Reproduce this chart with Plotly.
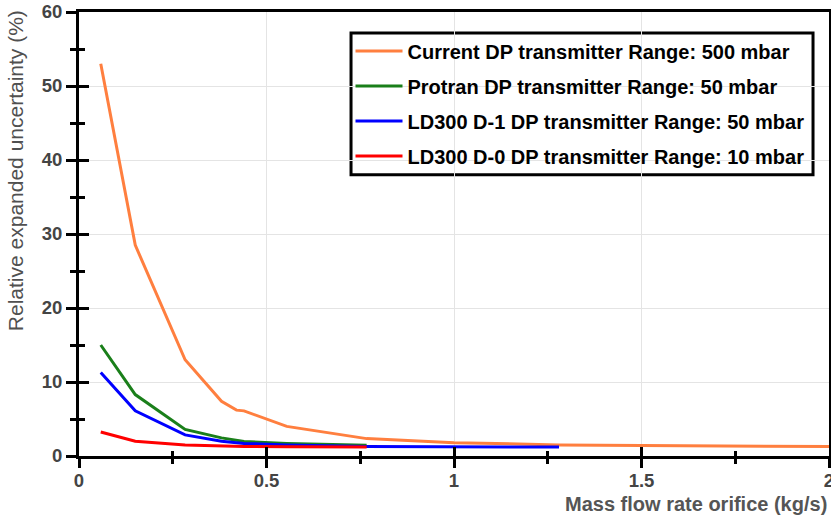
import plotly.graph_objects as go

# ---- data ----
orange_x = [0.058, 0.15, 0.283, 0.38, 0.42, 0.44, 0.554, 0.767, 1.0, 1.28, 1.5, 2.0]
orange_y = [53.0, 28.5, 13.0, 7.4, 6.2, 6.1, 4.0, 2.35, 1.8, 1.5, 1.42, 1.27]

green_x = [0.058, 0.15, 0.283, 0.38, 0.44, 0.554, 0.767]
green_y = [15.0, 8.3, 3.6, 2.45, 1.95, 1.7, 1.45]

blue_x = [0.058, 0.15, 0.283, 0.38, 0.44, 0.554, 0.767, 1.0, 1.28]
blue_y = [11.3, 6.1, 2.85, 2.0, 1.7, 1.5, 1.3, 1.25, 1.2]

red_x = [0.058, 0.15, 0.283, 0.38, 0.44, 0.554, 0.767]
red_y = [3.25, 2.0, 1.5, 1.35, 1.3, 1.25, 1.2]

names = [
    "Current DP transmitter Range: 500 mbar",
    "Protran DP transmitter Range: 50 mbar",
    "LD300 D-1 DP transmitter Range: 50 mbar",
    "LD300 D-0 DP transmitter Range: 10 mbar",
]
colors = ["#ff7f3f", "#1a7f1a", "#0000ff", "#ff0000"]

x_tickvals = [0, 0.5, 1, 1.5, 2]
x_ticktext = ["0", "0.5", "1", "1.5", "2"]
x_title = "Mass flow rate orifice (kg/s)"
y_title = "Relative expanded uncertainty (%)"

FONT = "Liberation Sans, Arial, sans-serif"

fig = go.Figure()
series = [(orange_x, orange_y), (green_x, green_y), (blue_x, blue_y), (red_x, red_y)]
for i, ((xs, ys), nm, c) in enumerate(zip(series, names, colors)):
    fig.add_trace(go.Scatter(x=xs, y=ys, mode="lines", name=nm,
                             line=dict(color=c, width=3),
                             legendgroup="g%d" % i))

# dummy trace on the overlay axes (inward ticks so the ticks cross the axis)
fig.add_trace(go.Scatter(x=[None], y=[None], xaxis="x2", yaxis="y2",
                         showlegend=False, hoverinfo="skip"))

tickfont = dict(family=FONT, size=18.5, color="#444444", weight="bold")

fig.update_layout(
    width=831, height=515,
    margin=dict(l=79, r=2, t=12, b=58.5),
    paper_bgcolor="white", plot_bgcolor="white",
    font=dict(family=FONT),
    showlegend=True,
    legend=dict(
        x=0.362, y=0.9563, xanchor="left", yanchor="top",
        bgcolor="rgba(0,0,0,0)", borderwidth=0,
        font=dict(family=FONT, size=20, color="black", weight="bold"),
        itemwidth=47, tracegroupgap=6, traceorder="grouped",
    ),
    shapes=[
        dict(type="rect", xref="paper", yref="paper",
             x0=0.3627, x1=0.9787, y0=0.6337, y1=0.9527,
             line=dict(color="black", width=3), fillcolor="white",
             layer="between"),
    ],
    xaxis=dict(
        range=[0, 2],
        tickvals=x_tickvals, ticktext=x_ticktext,
        showgrid=True, gridcolor="#e4e4e4", gridwidth=1,
        zeroline=False,
        showline=True, linecolor="black", linewidth=3, mirror=True,
        ticks="outside", ticklen=9, tickwidth=3, tickcolor="black",
        minor=dict(dtick=0.25, tick0=0, ticks="outside", ticklen=5, tickwidth=3,
                   tickcolor="black", showgrid=False),
        tickfont=tickfont, ticklabelstandoff=-3, ticklabeloverflow="allow",
        automargin=False, fixedrange=True,
    ),
    yaxis=dict(
        range=[0, 60], dtick=10, tick0=0,
        showgrid=True, gridcolor="#e4e4e4", gridwidth=1,
        zeroline=False,
        showline=True, linecolor="black", linewidth=3, mirror=True,
        ticks="outside", ticklen=10, tickwidth=3, tickcolor="black",
        minor=dict(dtick=5, tick0=0, ticks="outside", ticklen=6, tickwidth=3,
                   tickcolor="black", showgrid=False),
        tickfont=tickfont, ticklabeloverflow="allow",
        automargin=False, fixedrange=True,
    ),
    xaxis2=dict(
        range=[0, 2], overlaying="x", anchor="y2", side="bottom",
        tickvals=x_tickvals,
        showgrid=False, zeroline=False, showline=False, showticklabels=False,
        ticks="inside", ticklen=9, tickwidth=3, tickcolor="black",
        minor=dict(dtick=0.25, tick0=0, ticks="inside", ticklen=5, tickwidth=3,
                   tickcolor="black", showgrid=False),
        automargin=False, fixedrange=True,
    ),
    yaxis2=dict(
        range=[0, 60], overlaying="y", anchor="x2", side="left",
        dtick=10, tick0=0,
        showgrid=False, zeroline=False, showline=False, showticklabels=False,
        ticks="inside", ticklen=10, tickwidth=3, tickcolor="black",
        minor=dict(dtick=5, tick0=0, ticks="inside", ticklen=6, tickwidth=3,
                   tickcolor="black", showgrid=False),
        automargin=False, fixedrange=True,
    ),
    annotations=[
        dict(text=x_title, xref="paper", yref="paper", x=1.0, y=-0.107,
             xanchor="right", yanchor="middle", showarrow=False,
             font=dict(family=FONT, size=20, color="#555555", weight="bold")),
        dict(text=y_title, xref="paper", yref="paper", x=-0.0853, y=0.6416,
             xanchor="center", yanchor="middle", textangle=-90, showarrow=False,
             font=dict(family=FONT, size=21, color="#505050")),
    ],
)

# remove the browser's default 8px body margin so the figure sits at (0, 0)
fig.write_html("out.html", config={"displayModeBar": False},
               post_script="document.body.style.margin='0px';")
